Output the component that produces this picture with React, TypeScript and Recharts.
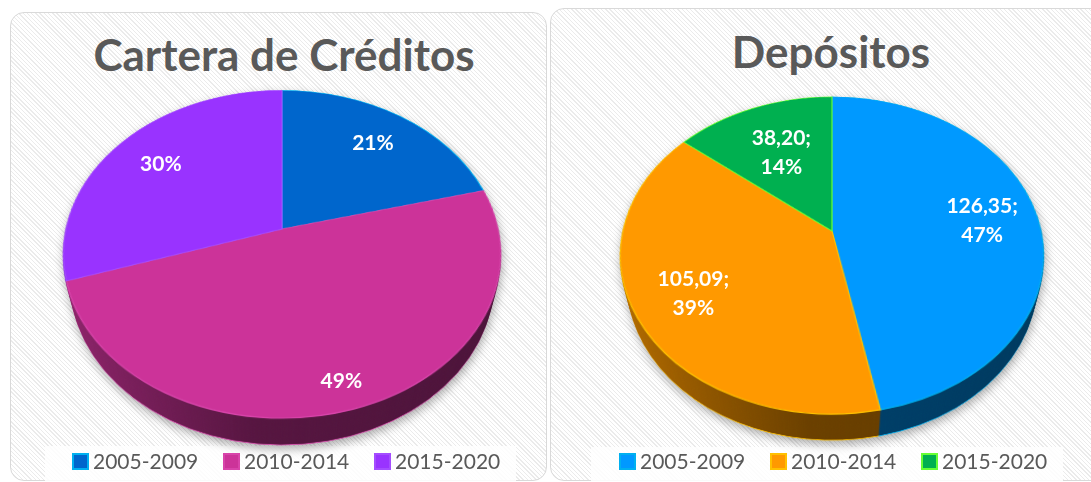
import React from 'react';
import { PieChart, Pie, Cell, Legend } from 'recharts';

// ---------- data ----------
const CATEGORIES = ['2005-2009', '2010-2014', '2015-2020'];

const CREDITOS_TITLE = 'Cartera de Créditos';
const CREDITOS_VALUES = [21, 49, 30];

const DEPOSITOS_TITLE = 'Depósitos';
const DEPOSITOS_VALUES = [126.35, 105.09, 38.2];

// ---------- styles ----------
const CREDITOS_FILLS = ['#0066CC', '#CC3399', '#9933FF'];
const CREDITOS_STROKES = ['#00B0F0', '#D844AA', '#A44DFF'];
const DEPOSITOS_FILLS = ['#0099FF', '#FF9900', '#00B050'];
const DEPOSITOS_STROKES = ['#00B0F0', '#FFC000', '#66FF33'];

const CREDITOS_LABEL_RADIUS = [0.75, 0.86, 0.74];
const DEPOSITOS_LABEL_RADIUS = [0.73, 0.73, 0.61];

const FONT = 'Lato, "Open Sans", "Noto Sans", sans-serif';
const TEXT_GRAY = '#595959';

type Datum = { name: string; value: number };
type Geo = { ax: number; ay: number; R: number; tilt: number; persp: number; depth: number };

const toData = (values: number[]): Datum[] =>
  CATEGORIES.map((name, i) => ({ name, value: values[i] }));

const CREDITOS_DATA = toData(CREDITOS_VALUES);
const DEPOSITOS_DATA = toData(DEPOSITOS_VALUES);

const GEO_L: Geo = { ax: 282, ay: 229, R: 216, tilt: 42.2, persp: 942, depth: 45 };
const GEO_R: Geo = { ax: 832, ay: 231, R: 209, tilt: 42.2, persp: 911, depth: 44 };

const LAYERS = 24;

function shade(hex: string, f: number): string {
  const n = parseInt(hex.slice(1), 16);
  const r = Math.round(((n >> 16) & 255) * f);
  const g = Math.round(((n >> 8) & 255) * f);
  const b = Math.round((n & 255) * f);
  return `rgb(${r},${g},${b})`;
}

function project(geo: Geo, cx: number, cy: number, r: number, midAngle: number): [number, number] {
  const a = (midAngle * Math.PI) / 180;
  const lx = r * Math.cos(a);
  const ly = -r * Math.sin(a);
  const t = (geo.tilt * Math.PI) / 180;
  const yp = ly * Math.cos(t);
  const zp = ly * Math.sin(t);
  const s = geo.persp / (geo.persp - zp);
  return [cx + lx * s, cy + yp * s];
}

function Gradients({ uid, fills, geo }: { uid: string; fills: string[]; geo: Geo }) {
  const S = 2 * geo.R + 4;
  return (
    <svg width={0} height={0} style={{ position: 'absolute', left: 0, top: 0 }}>
      <defs>
        {fills.map((f, i) => (
          <linearGradient key={i} id={`${uid}-${i}`} gradientUnits="userSpaceOnUse" x1={0} y1={0} x2={S} y2={0}>
            <stop offset="0" stopColor={shade(f, 0.72)} />
            <stop offset="0.45" stopColor={shade(f, 0.42)} />
            <stop offset="1" stopColor={shade(f, 0.37)} />
          </linearGradient>
        ))}
      </defs>
    </svg>
  );
}

function PieLayer({
  data, geo, z, fills, strokes, strokeWidth,
}: {
  data: Datum[]; geo: Geo; z: number; fills: string[]; strokes: string[]; strokeWidth: number;
}) {
  const S = 2 * geo.R + 4;
  const c = geo.R + 2;
  return (
    <div
      style={{
        position: 'absolute',
        left: geo.ax - c,
        top: geo.ay - c,
        width: S,
        height: S,
        transformOrigin: `${c}px ${c}px`,
        transform: `perspective(${geo.persp}px) rotateX(${geo.tilt}deg) translateZ(${-z}px)`,
      }}
    >
      <PieChart width={S} height={S} margin={{ top: 0, right: 0, bottom: 0, left: 0 }}>
        <Pie
          data={data}
          dataKey="value"
          nameKey="name"
          cx={c}
          cy={c}
          innerRadius={0}
          outerRadius={geo.R}
          startAngle={90}
          endAngle={-270}
          isAnimationActive={false}
          label={false}
          labelLine={false}
        >
          {data.map((_, i) => (
            <Cell key={i} fill={fills[i]} stroke={strokes[i]} strokeWidth={strokeWidth} />
          ))}
        </Pie>
      </PieChart>
    </div>
  );
}

function Pie3D({
  uid, data, geo, fills, strokes,
}: {
  uid: string; data: Datum[]; geo: Geo; fills: string[]; strokes: string[];
}) {
  const wallFills = fills.map((_, i) => `url(#${uid}-${i})`);
  const zs: number[] = [];
  for (let k = 0; k < LAYERS; k++) zs.push((geo.depth * (LAYERS - k)) / LAYERS);
  return (
    <div
      style={{
        position: 'absolute',
        left: 0,
        top: 0,
        width: 1091,
        height: 482,
        filter: 'drop-shadow(1px 4px 5px rgba(0,0,0,0.32))',
      }}
    >
      <Gradients uid={uid} fills={fills} geo={geo} />
      {zs.map((z, k) => (
        <PieLayer
          key={k}
          data={data}
          geo={geo}
          z={z}
          fills={wallFills}
          strokes={k === 0 ? strokes : wallFills}
          strokeWidth={1}
        />
      ))}
      <PieLayer data={data} geo={geo} z={0} fills={fills} strokes={strokes} strokeWidth={1.2} />
    </div>
  );
}

function makeLegend(fills: string[], strokes: string[]) {
  return (props: any) => {
    const payload: any[] = props.payload || [];
    return (
      <div style={{ display: 'flex', alignItems: 'center', height: 24 }}>
        {payload.map((e, i) => (
          <div
            key={i}
            style={{ display: 'flex', alignItems: 'center', width: i < payload.length - 1 ? 151 : 'auto' }}
          >
            <span
              style={{
                display: 'inline-block',
                width: 17,
                height: 17,
                boxSizing: 'border-box',
                background: fills[i],
                border: `2px solid ${strokes[i]}`,
                marginRight: 4,
              }}
            />
            <span style={{ fontFamily: FONT, fontSize: 21, lineHeight: '24px', color: TEXT_GRAY, whiteSpace: 'nowrap' }}>
              {e.value}
            </span>
          </div>
        ))}
      </div>
    );
  };
}

function makeLabel(geo: Geo, radii: number[], withValue: boolean) {
  return (props: any) => {
    const { cx, cy, midAngle, outerRadius, index, value, percent } = props;
    const [sx, sy] = project(geo, cx, cy, radii[index] * outerRadius, midAngle);
    const pct = `${Math.round(percent * 100)}%`;
    const lines = withValue ? [`${Number(value).toFixed(2).replace('.', ',')};`, pct] : [pct];
    const L = 29;
    const base0 = sy - ((lines.length - 1) * L) / 2 + 7.5;
    return (
      <text
        x={sx}
        y={base0}
        fill="#FFFFFF"
        fontFamily={FONT}
        fontWeight={700}
        fontSize={21}
        textAnchor="middle"
      >
        {lines.map((t, k) => (
          <tspan key={k} x={sx} y={base0 + k * L}>
            {t}
          </tspan>
        ))}
      </text>
    );
  };
}

function Overlay({
  data, geo, fills, strokes, px, py, pw, ph, radii, withValue, legendX, legendY,
}: {
  data: Datum[]; geo: Geo; fills: string[]; strokes: string[];
  px: number; py: number; pw: number; ph: number; radii: number[]; withValue: boolean;
  legendX: number; legendY: number;
}) {
  return (
    <div style={{ position: 'absolute', left: px, top: py, width: pw, height: ph }}>
      <PieChart width={pw} height={ph} margin={{ top: 0, right: 0, bottom: 0, left: 0 }}>
        <Pie
          data={data}
          dataKey="value"
          nameKey="name"
          cx={geo.ax - px}
          cy={geo.ay - py}
          innerRadius={0}
          outerRadius={geo.R}
          startAngle={90}
          endAngle={-270}
          isAnimationActive={false}
          fillOpacity={0}
          stroke="none"
          labelLine={false}
          label={makeLabel(geo, radii, withValue)}
        >
          {data.map((_, i) => (
            <Cell key={i} fill={fills[i]} fillOpacity={0} stroke="none" />
          ))}
        </Pie>
        <Legend
          content={makeLegend(fills, strokes)}
          wrapperStyle={{ left: legendX - px, top: legendY - py, width: 480, height: 24 }}
        />
      </PieChart>
    </div>
  );
}

const hatch =
  'repeating-linear-gradient(45deg, #ffffff 0px, #ffffff 2px, #ebebeb 2px, #ebebeb 3px)';

export default function App() {
  return (
    <div
      style={{
        position: 'absolute',
        left: 0,
        top: 0,
        width: 1091,
        height: 482,
        overflow: 'hidden',
        background: '#ffffff',
        fontFamily: FONT,
      }}
    >
      {/* panels */}
      <div
        style={{
          position: 'absolute', left: 10, top: 12, width: 537, height: 469, boxSizing: 'border-box',
          border: '1.5px solid #d9d9d9', borderRadius: 14, backgroundColor: '#fff', backgroundImage: hatch,
        }}
      />
      <div
        style={{
          position: 'absolute', left: 550, top: 8, width: 560, height: 473, boxSizing: 'border-box',
          border: '1.5px solid #d9d9d9', borderRadius: 14, backgroundColor: '#fff', backgroundImage: hatch,
        }}
      />
      {/* legend boxes */}
      <div style={{ position: 'absolute', left: 45, top: 446, width: 471, height: 36, background: 'rgba(255,255,255,0.85)' }} />
      <div style={{ position: 'absolute', left: 591, top: 447, width: 472, height: 35, background: 'rgba(255,255,255,0.85)' }} />

      {/* titles */}
      <svg width={1091} height={100} style={{ position: 'absolute', left: 0, top: 0 }}>
        <text x={284} y={71} textAnchor="middle" fontFamily={FONT} fontWeight={700} fontSize={44} fill={TEXT_GRAY}>
          {CREDITOS_TITLE}
        </text>
        <text x={831} y={68} textAnchor="middle" fontFamily={FONT} fontWeight={700} fontSize={44} fill={TEXT_GRAY}>
          {DEPOSITOS_TITLE}
        </text>
      </svg>

      {/* 3D pies */}
      <Pie3D uid="credW" data={CREDITOS_DATA} geo={GEO_L} fills={CREDITOS_FILLS} strokes={CREDITOS_STROKES} />
      <Pie3D uid="depoW" data={DEPOSITOS_DATA} geo={GEO_R} fills={DEPOSITOS_FILLS} strokes={DEPOSITOS_STROKES} />

      {/* labels + legends */}
      <Overlay
        data={CREDITOS_DATA} geo={GEO_L} fills={CREDITOS_FILLS} strokes={CREDITOS_STROKES}
        px={10} py={12} pw={537} ph={469} radii={CREDITOS_LABEL_RADIUS} withValue={false}
        legendX={72} legendY={449}
      />
      <Overlay
        data={DEPOSITOS_DATA} geo={GEO_R} fills={DEPOSITOS_FILLS} strokes={DEPOSITOS_STROKES}
        px={550} py={8} pw={541} ph={473} radii={DEPOSITOS_LABEL_RADIUS} withValue={true}
        legendX={619} legendY={449}
      />
    </div>
  );
}
